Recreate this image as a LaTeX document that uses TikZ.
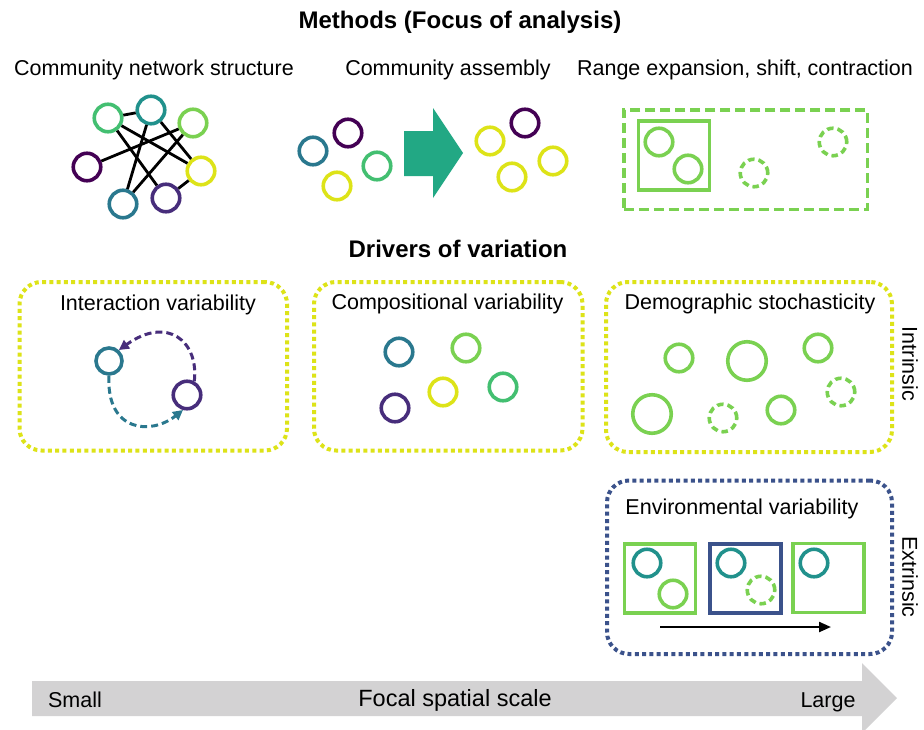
\documentclass[tikz,border=0pt]{standalone}
\usepackage{fontspec}
\setmainfont{Liberation Sans}
\usetikzlibrary{arrows.meta}

% viridis-like palette
\definecolor{vpurple}{HTML}{440154}
\definecolor{vindigo}{HTML}{472D7B}
\definecolor{vblue}{HTML}{3B528B}
\definecolor{vteal}{HTML}{2A788E}
\definecolor{vcyan}{HTML}{21918C}
\definecolor{vgreen}{HTML}{43BF71}
\definecolor{vlime}{HTML}{7AD151}
\definecolor{vyellow}{HTML}{DDE318}
\definecolor{arrowgreen}{HTML}{22A884}
\definecolor{scalegray}{HTML}{D3D2D3}

\begin{document}
\begin{tikzpicture}[x=1pt,y=-1pt,
  sp/.style={circle, draw=#1, line width=3.6pt, inner sep=0pt, minimum size=27.5pt},
  spd/.style={sp=#1, dash pattern=on 6.5pt off 4pt},
  bigsp/.style={sp=#1, minimum size=38.5pt},
  link/.style={line width=2.8pt, black},
  lab/.style={font=\fontsize{21.5}{24}\selectfont, inner sep=0pt, anchor=base},
  head/.style={font=\bfseries\fontsize{24}{28}\selectfont, inner sep=0pt, anchor=base},
  dotbox/.style={draw=#1, line width=4pt, dash pattern=on 4pt off 3.3pt,
                 rounded corners=22pt, inner sep=0pt},
  plot/.style={draw=#1, line width=3.5pt, inner sep=0pt, minimum width=71pt, minimum height=69pt},
  iarrow/.style={draw=#1, line width=3pt, dash pattern=on 7pt off 4pt,
                 -{Triangle[length=10pt,width=10pt,fill=#1]}},
]
\clip (0,0) rectangle (924,729);
\fill[white] (0,0) rectangle (924,729);

% ---------- headings ----------
\node[head] (title) at (460,28) {Methods (Focus of analysis)};
\node[lab] (m1) at (154,75) {Community network structure};
\node[lab] (m2) at (448,75) {Community assembly};
\node[lab] (m3) at (745,75) {Range expansion, shift, contraction};
\node[head] (drivers) at (458,257) {Drivers of variation};

% ---------- community network ----------
\node[sp=vgreen]  (na) at (108,118) {};
\node[sp=vcyan]   (nb) at (151,110) {};
\node[sp=vlime]   (nc) at (193,123) {};
\node[sp=vpurple] (nd) at (87,167) {};
\node[sp=vyellow] (ne) at (201,171) {};
\node[sp=vteal]   (nf) at (123,204) {};
\node[sp=vindigo] (ng) at (166,198) {};
\draw[link] (na) -- (nb);
\draw[link] (na) -- (ne);
\draw[link] (na) -- (ng);
\draw[link] (nb) -- (nf);
\draw[link] (nb) -- (ne);
\draw[link] (nc) -- (nd);
\draw[link] (nc) -- (nf);
\draw[link] (ne) -- (ng);

% ---------- community assembly ----------
\node[sp=vteal]   (a1) at (313,151) {};
\node[sp=vpurple] (a2) at (348,133) {};
\node[sp=vgreen]  (a3) at (377,166) {};
\node[sp=vyellow] (a4) at (337,186) {};
\fill[arrowgreen] (404,131) -- (433,131) -- (433,108) -- (463,153)
  -- (433,198) -- (433,176) -- (404,176) -- cycle;
\node[sp=vyellow] (b1) at (490,141) {};
\node[sp=vpurple] (b2) at (525,123) {};
\node[sp=vyellow] (b3) at (512,177) {};
\node[sp=vyellow] (b4) at (553,161) {};

% ---------- range expansion ----------
\node[draw=vlime, line width=3.5pt, dash pattern=on 10pt off 5pt, inner sep=0pt,
      minimum width=243.5pt, minimum height=99.5pt] (range) at (745.5,159.5) {};
\node[plot=vlime] (rplot) at (674,155.5) {};
\node[sp=vlime]  (r1) at (659,142) {};
\node[sp=vlime]  (r2) at (688,169) {};
\node[spd=vlime] (r3) at (754,173) {};
\node[spd=vlime] (r4) at (833,142) {};

% ---------- driver boxes ----------
\node[dotbox=vyellow, minimum width=267.5pt, minimum height=168.5pt] (boxI) at (153.25,366.25) {};
\node[dotbox=vyellow, minimum width=268.5pt, minimum height=168.5pt] (boxC) at (448.25,366.25) {};
\node[dotbox=vyellow, minimum width=286pt, minimum height=170pt] (boxD) at (749,367) {};
\node[dotbox=vblue, minimum width=285pt, minimum height=173.5pt] (boxE) at (749.5,567.25) {};

\node[lab] (tI) at (158,310) {Interaction variability};
\node[lab] (tC) at (447.5,309) {Compositional variability};
\node[lab] (tD) at (750,309) {Demographic stochasticity};
\node[lab] (tE) at (742,514) {Environmental variability};

% interaction variability
\node[sp=vteal, minimum size=26pt] (ia) at (109,361) {};
\node[sp=vindigo] (ib) at (187,395) {};
\draw[iarrow=vindigo] (ib.62) .. controls (199,342) and (168,315) .. (ia.48);
\draw[iarrow=vteal] (ia.south) .. controls (106,431) and (150,436) .. (ib.255);

% compositional variability
\node[sp=vteal]   (c1) at (399,352) {};
\node[sp=vlime]   (c2) at (466,348) {};
\node[sp=vgreen]  (c3) at (503,387) {};
\node[sp=vyellow] (c4) at (443,392) {};
\node[sp=vindigo] (c5) at (395,408) {};

% demographic stochasticity
\node[sp=vlime]    (d1) at (679,358) {};
\node[bigsp=vlime] (d2) at (747,361) {};
\node[sp=vlime]    (d3) at (818,348) {};
\node[bigsp=vlime] (d4) at (652,414) {};
\node[spd=vlime]   (d5) at (723,418) {};
\node[sp=vlime]    (d6) at (781,410) {};
\node[spd=vlime]   (d7) at (841,392) {};

% environmental variability
\node[plot=vlime] (e1) at (660,578.5) {};
\node[plot=vblue] (e2) at (745.5,578.5) {};
\node[plot=vlime] (e3) at (828.5,578) {};
\node[sp=vcyan]  (e1a) at (647,563) {};
\node[sp=vlime]  (e1b) at (673,594) {};
\node[sp=vcyan]  (e2a) at (731,563) {};
\node[spd=vlime] (e2b) at (761,590) {};
\node[sp=vcyan]  (e3a) at (814,563) {};
\coordinate (ts) at (660,627);
\coordinate (te) at (831,627);
\draw[line width=2.2pt, -{Triangle[length=12pt,width=10pt]}] (ts) -- (te);

% side labels
\node[font=\fontsize{21.5}{24}\selectfont, rotate=-90, inner sep=0pt] (intr) at (910,364) {Intrinsic};
\node[font=\fontsize{21.5}{24}\selectfont, rotate=-90, inner sep=0pt] (extr) at (910,577) {Extrinsic};

% ---------- spatial scale axis ----------
\fill[scalegray] (32,681) -- (862,681) -- (862,663) -- (897,698)
  -- (862,733) -- (862,716) -- (32,716) -- cycle;
\node[lab] (small) at (75,707) {Small};
\node[lab, font=\fontsize{23.5}{26}\selectfont] (focal) at (455,706) {Focal spatial scale};
\node[lab] (large) at (828,707) {Large};
\end{tikzpicture}
\end{document}
